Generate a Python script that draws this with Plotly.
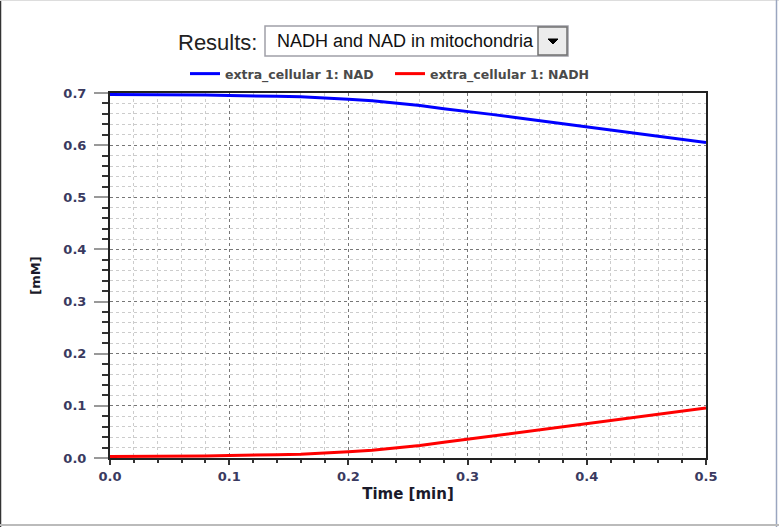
import plotly.graph_objects as go

# ---- data ----
time_min = [0.00, 0.02, 0.04, 0.06, 0.08, 0.10, 0.12, 0.14, 0.16, 0.18, 0.20, 0.22, 0.24,
            0.26, 0.28, 0.30, 0.32, 0.34, 0.36, 0.38, 0.40, 0.42, 0.44, 0.46, 0.48, 0.50]
nad = [0.697, 0.697, 0.697, 0.697, 0.696, 0.695, 0.695, 0.694, 0.693, 0.691, 0.688, 0.685,
       0.681, 0.676, 0.670, 0.665, 0.659, 0.653, 0.647, 0.641, 0.635, 0.629, 0.623, 0.617,
       0.611, 0.605]
nadh = [0.003, 0.003, 0.003, 0.003, 0.004, 0.005, 0.005, 0.006, 0.007, 0.009, 0.012, 0.015,
        0.019, 0.024, 0.030, 0.036, 0.042, 0.048, 0.054, 0.060, 0.066, 0.072, 0.078, 0.084,
        0.090, 0.096]
series_names = ["extra_cellular 1: NAD", "extra_cellular 1: NADH"]
x_ticks = [0.0, 0.1, 0.2, 0.3, 0.4, 0.5]
y_ticks = [0.0, 0.1, 0.2, 0.3, 0.4, 0.5, 0.6, 0.7]

W, H = 779, 527
L, R, T, B = 110, 706, 93, 458  # plot area pixel box


def px(x):
    return (x - L) / (R - L)


def py(y):
    return (B - y) / (B - T)


fig = go.Figure()
fig.add_trace(go.Scatter(x=time_min, y=nad, mode="lines", name=series_names[0],
                         line=dict(color="#0000ff", width=3)))
fig.add_trace(go.Scatter(x=time_min, y=nadh, mode="lines", name=series_names[1],
                         line=dict(color="#ff0000", width=3)))

tick_font = dict(family="DejaVu Sans", size=13, color="#3a3a60", weight="bold")

fig.update_xaxes(
    range=[0, 0.5], tickvals=x_ticks, ticktext=[f"{v:.1f}" for v in x_ticks],
    showline=True, linecolor="#222222", linewidth=2, mirror=True,
    ticks="outside", ticklen=5, tickcolor="#333333", tickwidth=1.5,
    showgrid=True, gridcolor="#777777", griddash="dot", gridwidth=1,
    minor=dict(dtick=0.02, ticks="outside", ticklen=3, tickcolor="#333333",
               showgrid=True, gridcolor="#cccccc", griddash="dot"),
    tickfont=tick_font, zeroline=False, ticklabelstandoff=0,
    title=dict(text="Time [min]", font=dict(family="DejaVu Sans", size=15, color="#1a1a2a",
                                            weight="bold"), standoff=6),
)
fig.update_yaxes(
    range=[0, 0.7], tickvals=y_ticks, ticktext=[f"{v:.1f}" for v in y_ticks],
    showline=True, linecolor="#222222", linewidth=2, mirror=True,
    ticks="outside", ticklen=14, tickcolor="#999999", tickwidth=2,
    showgrid=True, gridcolor="#777777", griddash="dot", gridwidth=1,
    minor=dict(dtick=0.02, ticks="outside", ticklen=6, tickcolor="#333333",
               showgrid=True, gridcolor="#cccccc", griddash="dot"),
    tickfont=tick_font, zeroline=False, ticklabelstandoff=5,
    title=dict(text="[mM]", font=dict(family="DejaVu Sans", size=13, color="#1a1a2a",
                                      weight="bold"), standoff=20),
)

shapes = [
    # outer frame of the picture
    dict(type="line", xref="paper", yref="paper", x0=px(0.5), x1=px(0.5), y0=py(0), y1=py(H),
         line=dict(color="#333333", width=1.5)),
    dict(type="line", xref="paper", yref="paper", x0=px(0), x1=px(W), y0=py(0.5), y1=py(0.5),
         line=dict(color="#dddddd", width=1)),
    dict(type="line", xref="paper", yref="paper", x0=px(776.5), x1=px(776.5), y0=py(0), y1=py(H),
         line=dict(color="#9aa6c0", width=1.5)),
    dict(type="line", xref="paper", yref="paper", x0=px(0), x1=px(W), y0=py(525), y1=py(525),
         line=dict(color="#bbbbbb", width=2)),
    # dropdown box
    dict(type="rect", xref="paper", yref="paper", x0=px(265), x1=px(568), y0=py(56), y1=py(26),
         line=dict(color="#a0a0a8", width=1.5), fillcolor="white"),
    dict(type="rect", xref="paper", yref="paper", x0=px(538), x1=px(567), y0=py(55), y1=py(27),
         line=dict(color="#707070", width=1.5), fillcolor="#ececec"),
    dict(type="path", xref="paper", yref="paper",
         path=f"M {px(548)} {py(39)} L {px(558)} {py(39)} L {px(553)} {py(44)} Z",
         line=dict(color="black", width=1), fillcolor="black"),
]

annotations = [
    dict(text="Results:", xref="paper", yref="paper", x=px(259), y=py(42), xanchor="right",
         yanchor="middle", showarrow=False,
         font=dict(family="Liberation Sans", size=22, color="#222222")),
    dict(text="NADH and NAD in mitochondria", xref="paper", yref="paper", x=px(275), y=py(41),
         xanchor="left", yanchor="middle", showarrow=False,
         font=dict(family="Liberation Sans", size=18, color="#111111")),
]

fig.update_layout(
    width=W, height=H,
    margin=dict(l=L, r=W - R, t=T, b=H - B, pad=0),
    paper_bgcolor="white", plot_bgcolor="white",
    showlegend=True,
    legend=dict(orientation="h", x=px(185), y=py(74), xanchor="left", yanchor="middle",
                font=dict(family="DejaVu Sans", size=12.5, color="#4a4a4a", weight="bold"),
                itemwidth=30, entrywidth=160, bgcolor="rgba(0,0,0,0)"),
    shapes=shapes, annotations=annotations,
)

fig.write_html("out.html", config={"displayModeBar": False},
               post_script="document.body.style.margin='0px';document.body.style.overflow='hidden';")
